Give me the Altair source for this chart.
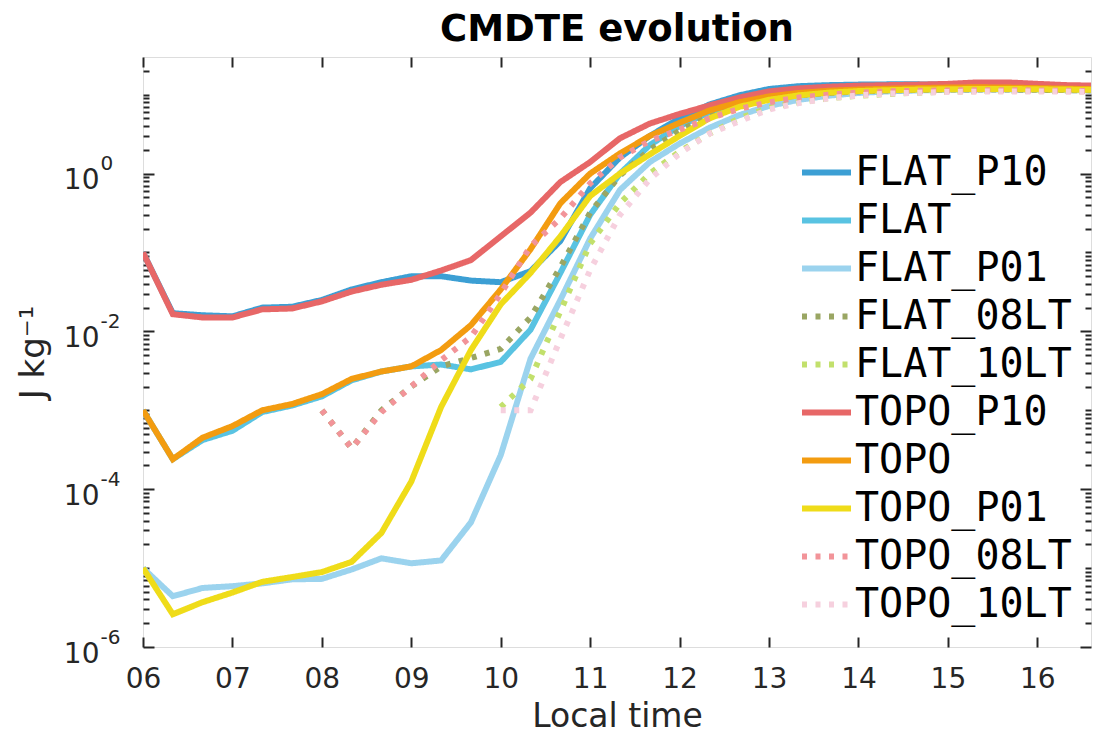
import altair as alt
import pandas as pd

# ---------------- data ----------------
times = [6.0, 6.3333, 6.6667, 7.0, 7.3333, 7.6667, 8.0, 8.3333, 8.6667, 9.0, 9.3333,
         9.6667, 10.0, 10.3333, 10.6667, 11.0, 11.3333, 11.6667, 12.0, 12.3333, 12.6667,
         13.0, 13.3333, 13.6667, 14.0, 14.3333, 14.6667, 15.0, 15.3333, 15.6667, 16.0,
         16.3333, 16.6667]

series_names = ["FLAT_P10", "FLAT", "FLAT_P01", "FLAT_08LT", "FLAT_10LT",
                "TOPO_P10", "TOPO", "TOPO_P01", "TOPO_08LT", "TOPO_10LT"]

series_colors = ["#3c9fd4", "#59c3e2", "#9bd3ee", "#9aa663", "#c2e06c",
                 "#e76767", "#f39c10", "#efdc19", "#f29499", "#f6d0de"]

flat_p10 = [0.1, 0.017, 0.016, 0.0155, 0.02, 0.0205, 0.025, 0.034, 0.042, 0.05, 0.05,
            0.044, 0.042, 0.058, 0.14, 0.65, 1.6, 3.0, 5.0, 7.5, 9.8, 11.8, 12.8, 13.2,
            13.4, 13.5, 13.5, 13.4, 13.2, 13.0, 12.7, 12.4, 12.2]
flat = [1e-3, 2.4e-4, 4.2e-4, 5.5e-4, 9.5e-4, 1.15e-3, 1.5e-3, 2.4e-3, 3.1e-3, 3.6e-3,
        3.8e-3, 3.3e-3, 4.1e-3, 0.0105, 0.055, 0.3, 1.0, 2.3, 4.0, 6.0, 8.0, 9.8, 11.0,
        11.8, 12.2, 12.4, 12.5, 12.5, 12.4, 12.2, 12.0, 11.8, 11.6]
flat_p01 = [1e-5, 4.4e-6, 5.6e-6, 5.9e-6, 6.4e-6, 7.2e-6, 7.3e-6, 9.6e-6, 1.33e-5,
            1.15e-5, 1.25e-5, 3.8e-5, 2.7e-4, 4.5e-3, 0.025, 0.15, 0.62, 1.4, 2.4, 3.8,
            5.5, 7.2, 8.6, 9.7, 10.5, 11.0, 11.3, 11.5, 11.6, 11.6, 11.5, 11.4, 11.3]
flat_08lt = [None] * 6 + [1e-3, 3.3e-4, 1.0e-3, 2.0e-3, 3.6e-3, 4.6e-3, 6.0e-3, 0.015,
                          0.065, 0.32, 0.95, 2.0, 3.5, 5.3, 7.2, 8.8, 9.8, 10.5, 11.0,
                          11.3, 11.5, 11.6, 11.6, 11.6, 11.5, 11.4, 11.3]
flat_10lt = [None] * 12 + [1.1e-3, 2.5e-3, 0.018, 0.13, 0.42, 1.0, 1.9, 3.2, 5.0, 6.8,
                           8.0, 9.0, 9.7, 10.2, 10.6, 10.9, 11.1, 11.2, 11.2, 11.1, 11.0]
topo_p10 = [0.1, 0.0165, 0.015, 0.015, 0.019, 0.0195, 0.024, 0.032, 0.039, 0.045, 0.059,
            0.08, 0.16, 0.32, 0.78, 1.4, 2.8, 4.3, 5.7, 7.3, 9.2, 11.0, 12.0, 12.6, 13.0,
            13.2, 13.4, 13.7, 14.3, 14.3, 13.7, 13.2, 13.0]
topo = [1e-3, 2.4e-4, 4.5e-4, 6.3e-4, 1e-3, 1.2e-3, 1.6e-3, 2.5e-3, 3.1e-3, 3.6e-3,
        5.8e-3, 0.012, 0.034, 0.11, 0.42, 1.0, 1.8, 3.0, 4.4, 6.3, 8.0, 9.5, 10.5, 11.2,
        11.6, 11.9, 12.1, 12.3, 12.4, 12.3, 12.1, 11.9, 11.7]
topo_p01 = [1e-5, 2.6e-6, 3.7e-6, 4.9e-6, 6.7e-6, 7.7e-6, 8.9e-6, 1.2e-5, 2.8e-5,
            1.25e-4, 1.1e-3, 5.8e-3, 0.022, 0.055, 0.16, 0.52, 1.0, 1.75, 3.0, 5.0, 7.0,
            8.6, 9.8, 10.6, 11.1, 11.4, 11.6, 11.7, 11.8, 11.8, 11.7, 11.6, 11.5]
topo_08lt = [None] * 6 + [1e-3, 3.3e-4, 9.5e-4, 2.0e-3, 4.3e-3, 8.5e-3, 0.03, 0.12, 0.27,
                          0.75, 1.6, 2.6, 3.6, 5.0, 6.6, 8.0, 9.2, 10.0, 10.6, 11.0,
                          11.2, 11.3, 11.4, 11.4, 11.3, 11.2, 11.1]
topo_10lt = [None] * 12 + [1e-3, 1e-3, 8e-3, 0.06, 0.3, 0.85, 1.8, 3.2, 4.6, 6.5, 7.8,
                           9.0, 9.8, 10.3, 10.6, 10.8, 10.9, 11.0, 11.0, 10.9, 10.8]

all_values = [flat_p10, flat, flat_p01, flat_08lt, flat_10lt,
              topo_p10, topo, topo_p01, topo_08lt, topo_10lt]

x_tick_values = [6, 7, 8, 9, 10, 11, 12, 13, 14, 15, 16]
y_major_values = [1e-6, 1e-4, 1e-2, 1.0]
y_minor_values = [k * 10.0 ** e for e in range(-6, 2) for k in range(1, 10)
                  if 1e-6 < k * 10.0 ** e < 30 and not (k == 1 and e in (-6, -4, -2, 0))]

rows = []
for name, vals in zip(series_names, all_values):
    for t, v in zip(times, vals):
        if v is not None:
            rows.append({"t": t, "v": v, "series": name})
df = pd.DataFrame(rows)

dashes = [[1, 0] if not n.endswith("LT") else [5, 8.5] for n in series_names]

# ---------------- layout ----------------
W, H = 948, 590
FONT = "DejaVu Sans"
TICK = "#262626"

xscale = alt.Scale(domain=[6, 16.6], nice=False, zero=False)
yscale = alt.Scale(type="log", domain=[1e-6, 30], nice=False)

base = alt.Chart(df)

legend = alt.Legend(title=None, orient="none", legendX=656, legendY=88,
                    symbolType="stroke", symbolSize=2401, symbolStrokeWidth=6,
                    labelFont="DejaVu Sans Mono", labelFontSize=40, labelColor="black",
                    labelLimit=500, labelOffset=1, rowPadding=0, padding=0)

main = base.mark_line(strokeWidth=6, strokeCap="butt", clip=True).encode(
    x=alt.X("t:Q", scale=xscale,
            axis=alt.Axis(values=x_tick_values, ticks=False, domain=False, grid=False,
                          labelExpr="datum.value < 10 ? '0' + datum.value : '' + datum.value",
                          labelFont=FONT, labelFontSize=28, labelColor=TICK,
                          labelPadding=18, labelFlush=False,
                          title="Local time", titleFont=FONT, titleFontSize=33,
                          titleFontWeight="normal", titleColor=TICK,
                          titleX=W / 2, titleY=79, titleBaseline="alphabetic",
                          titleAlign="center")),
    y=alt.Y("v:Q", scale=yscale,
            axis=alt.Axis(values=y_major_values, ticks=False, domain=False, grid=False,
                          labelExpr="'10'", labelFont=FONT, labelFontSize=28,
                          labelColor=TICK, labelPadding=44, labelFlush=False,
                          labelOffset=7, labelOverlap=False,
                          title="J kg\u207b\u00b9", titleFont=FONT, titleFontSize=34,
                          titleFontWeight="normal", titleColor=TICK,
                          titleAngle=270, titleX=-100, titleY=H / 2,
                          titleBaseline="alphabetic", titleAlign="center")),
    color=alt.Color("series:N", scale=alt.Scale(domain=series_names, range=series_colors),
                    legend=legend),
    strokeDash=alt.StrokeDash("series:N", scale=alt.Scale(domain=series_names, range=dashes),
                              legend=legend),
    order=alt.Order("t:Q"),
)


def tick_axis(orient, offset, values, size):
    return alt.Axis(orient=orient, offset=offset, values=values, labels=False,
                    domain=False, grid=False, ticks=True, tickSize=size, tickWidth=2,
                    tickColor=TICK, title=None, minExtent=0, maxExtent=0)


def ghost(xaxis, yaxis):
    return base.mark_line(strokeOpacity=0, clip=True).encode(
        x=alt.X("t:Q", scale=xscale, axis=xaxis),
        y=alt.Y("v:Q", scale=yscale, axis=yaxis),
        detail="series:N",
    )


exp_axis = alt.Axis(orient="left", values=y_major_values, ticks=False, domain=False,
                    grid=False, labelExpr="'' + round(log(datum.value) / LN10)",
                    labelFont=FONT, labelFontSize=20, labelColor=TICK, labelAlign="left",
                    labelPadding=43, labelOffset=-10, labelFlush=False, labelOverlap=False,
                    title=None, minExtent=0, maxExtent=0)

g1 = ghost(tick_axis("top", -H, x_tick_values, 10), tick_axis("right", -W, y_major_values, 11))
g2 = ghost(tick_axis("bottom", -H, x_tick_values, 10), tick_axis("right", -W, y_minor_values, 6))
g3 = ghost(None, tick_axis("left", -W, y_major_values, 11))
g4 = ghost(None, tick_axis("left", -W, y_minor_values, 6))
g5 = ghost(None, exp_axis)

chart = alt.layer(main, g1, g2, g3, g4, g5).resolve_axis(
    x="independent", y="independent"
).properties(
    width=W, height=H,
    title=alt.TitleParams("CMDTE evolution", font=FONT, fontSize=37, fontWeight="bold",
                          color="black", anchor="middle", offset=13, dy=6),
    autosize=alt.AutoSizeParams(type="none"),
    padding={"left": 143, "top": 57, "right": 2, "bottom": 89},
).configure_view(stroke=TICK, strokeWidth=2).configure(background="white")

chart.save("out.html", embed_options={"renderer": "svg", "actions": False})
